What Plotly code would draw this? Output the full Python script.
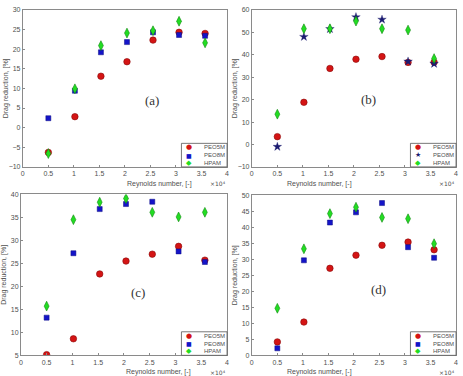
import plotly.graph_objects as go

# Reynolds number (x 10^4)
re_x = [0.5, 1.02, 1.53, 2.04, 2.55, 3.06, 3.57]

# Panel (a)
a_peo5m = [-6.3, 2.8, 13.1, 16.8, 22.3, 24.3, 24.0]
a_peo8m = [2.4, 9.4, 19.2, 21.8, 24.3, 23.6, 23.4]
a_hpam = [-6.6, 9.9, 20.9, 24.1, 24.7, 27.1, 21.6]

# Panel (b)
b_peo5m = [3.5, 18.8, 33.9, 38.0, 39.2, 36.6, 36.7]
b_peo8m = [-1.0, 48.0, 51.5, 56.8, 55.7, 37.0, 36.0]
b_hpam = [13.5, 51.6, 51.6, 55.0, 51.6, 51.0, 38.3]

# Panel (c)
c_peo5m = [5.15, 8.6, 22.7, 25.5, 27.0, 28.7, 25.7]
c_peo8m = [13.2, 27.2, 36.8, 37.9, 38.4, 27.6, 25.3]
c_hpam = [15.7, 34.5, 38.3, 39.1, 36.1, 35.1, 36.1]

# Panel (d)
d_peo5m = [4.2, 10.4, 27.2, 31.3, 34.4, 35.4, 33.0]
d_peo8m = [2.2, 29.7, 41.5, 44.7, 47.6, 33.8, 30.5]
d_hpam = [14.7, 33.3, 44.3, 46.3, 43.1, 42.7, 34.9]

x_ticks = [0, 0.5, 1, 1.5, 2, 2.5, 3, 3.5, 4]
x_tick_text = ["0", "0.5", "1", "1.5", "2", "2.5", "3", "3.5", "4"]

panels = [
    dict(label="(a)", y=[a_peo5m, a_peo8m, a_hpam], star=False, yr=[-10, 30], dt=5,
         lab_xy=(2.54, 6.8), dom_x=[21, 227], dom_y=[6, 166]),
    dict(label="(b)", y=[b_peo5m, b_peo8m, b_hpam], star=True, yr=[-10, 60], dt=10,
         lab_xy=(2.28, 19.9), dom_x=[252, 458], dom_y=[6, 166]),
    dict(label="(c)", y=[c_peo5m, c_peo8m, c_hpam], star=False, yr=[5, 40], dt=5,
         lab_xy=(2.27, 18.6), dom_x=[19, 227], dom_y=[194, 358]),
    dict(label="(d)", y=[d_peo5m, d_peo8m, d_hpam], star=False, yr=[0, 50], dt=5,
         lab_xy=(2.48, 20.6), dom_x=[252, 458], dom_y=[195, 358]),
]

W, H = 463, 376
names = ["PEO5M", "PEO8M", "HPAM"]
RED = "#d41414"
BLUE = "#1414c8"
NAVY = "#1a1a70"
GREEN = "#22dd22"
TXT = "#505050"
AX = "#8a8a8a"

fig = go.Figure()
annotations = []
shapes = []

for i, p in enumerate(panels):
    n = "" if i == 0 else str(i + 1)
    xa, ya = "x" + n, "y" + n
    styles = [
        dict(symbol="circle", size=6.5, color=RED, line=dict(color="#8a0a0a", width=0.6)),
        (dict(symbol="star", size=6.5, color=NAVY, line=dict(color=NAVY, width=0.3)) if p["star"]
         else dict(symbol="square", size=5, color=BLUE, line=dict(color="#0a0a80", width=0.5))),
        dict(symbol="diamond-tall", size=7, color=GREEN, line=dict(color="#118811", width=0.6)),
    ]
    for vals, st, nm in zip(p["y"], styles, names):
        fig.add_trace(go.Scatter(x=re_x, y=vals, mode="markers", marker=st, name=nm,
                                 xaxis=xa, yaxis=ya, showlegend=False))
    x0, x1 = p["dom_x"][0] / W, p["dom_x"][1] / W
    y1, y0 = 1 - p["dom_y"][0] / H, 1 - p["dom_y"][1] / H
    ax_common = dict(showgrid=False, zeroline=False, showline=True, mirror=True,
                     linecolor=AX, linewidth=0.8, ticks="inside", ticklen=2,
                     tickcolor=AX, tickfont=dict(family="Liberation Sans", size=7, color=TXT))
    fig.update_layout(**{
        "xaxis" + n: dict(domain=[x0, x1], range=[0, 4], anchor=ya, tickvals=x_ticks,
                          ticktext=x_tick_text, **ax_common),
        "yaxis" + n: dict(domain=[y0, y1], range=p["yr"], anchor=xa, dtick=p["dt"],
                          tick0=p["yr"][0], **ax_common),
    })
    # panel label
    annotations.append(dict(x=p["lab_xy"][0], y=p["lab_xy"][1], xref=xa, yref=ya,
                            text=p["label"], showarrow=False,
                            font=dict(family="Liberation Serif", size=13, color="#333")))
    # axis titles
    annotations.append(dict(x=(x0 + x1) / 2, y=y0 - 17 / H, xref="paper", yref="paper",
                            text="Reynolds number, [-]", showarrow=False, yanchor="middle",
                            font=dict(family="Liberation Sans", size=7, color=TXT)))
    annotations.append(dict(x=x0 - 17 / W, y=(y0 + y1) / 2, xref="paper", yref="paper",
                            text="Drag reduction, [%]", showarrow=False, textangle=-90,
                            xanchor="center", yanchor="middle",
                            font=dict(family="Liberation Sans", size=7, color=TXT)))
    annotations.append(dict(x=x1 + 1 / W, y=y0 - 17 / H, xref="paper", yref="paper",
                            text="\u00d710\u2074", showarrow=False, xanchor="right",
                            yanchor="middle",
                            font=dict(family="DejaVu Sans", size=6, color=TXT)))
    # legend box (lower right)
    lx0, lx1 = x1 - 46 / W, x1
    ly0, ly1 = y0, y0 + 24 / H
    shapes.append(dict(type="rect", xref="paper", yref="paper", x0=lx0, x1=lx1, y0=ly0, y1=ly1,
                       line=dict(color="#555", width=0.8), fillcolor="white"))
    syms = ["\u25cf", "\u2605" if p["star"] else "\u25a0", "\u25c6"]
    cols = [RED, NAVY if p["star"] else BLUE, GREEN]
    sz = [7, 7, 7] if p["star"] else [7, 6, 7]
    for k in range(3):
        yy = ly1 - (4 + 8 * k) / H
        annotations.append(dict(x=lx0 + 8 / W, y=yy, xref="paper", yref="paper",
                                text=syms[k], showarrow=False, xanchor="center", yanchor="middle",
                                font=dict(family="DejaVu Sans", size=sz[k], color=cols[k])))
        annotations.append(dict(x=lx0 + 21 / W, y=yy, xref="paper", yref="paper",
                                text=names[k], showarrow=False, xanchor="left", yanchor="middle",
                                font=dict(family="Liberation Sans", size=6, color=TXT)))

fig.update_layout(width=W, height=H, margin=dict(l=0, r=0, t=0, b=0),
                  plot_bgcolor="white", paper_bgcolor="white",
                  annotations=annotations, shapes=shapes, showlegend=False)

fig.write_html("out.html")
